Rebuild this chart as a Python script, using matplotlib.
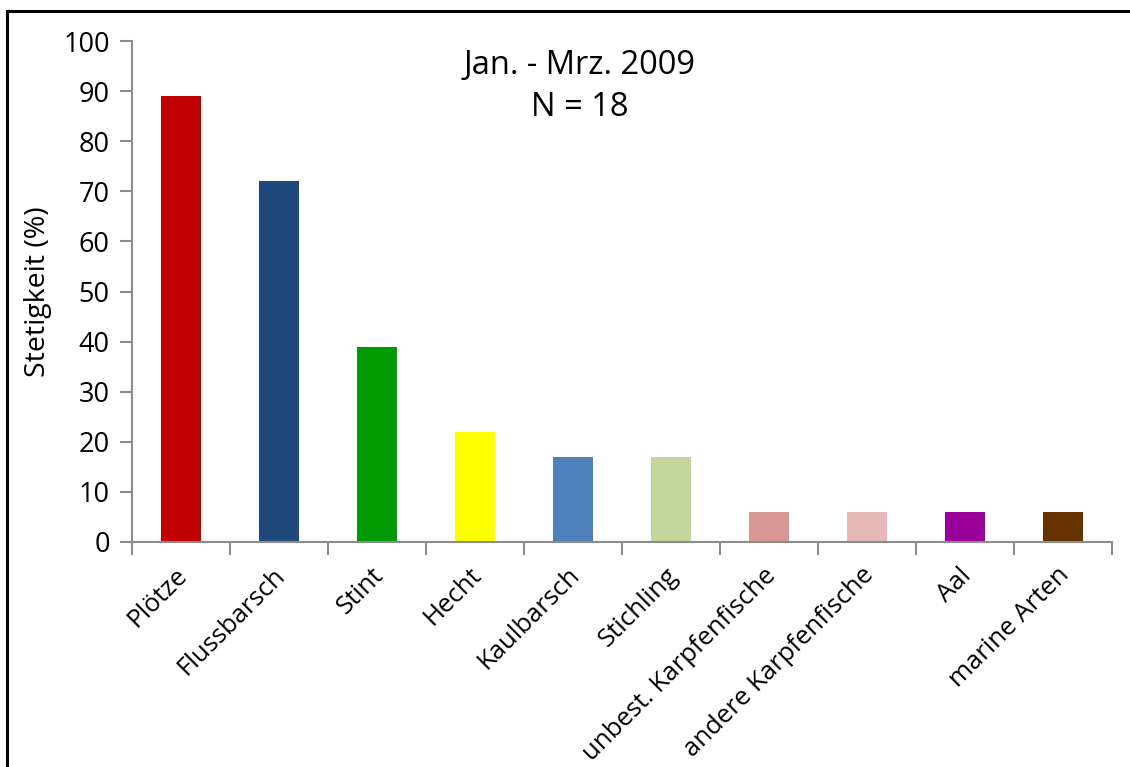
import matplotlib
matplotlib.use("Agg")
import matplotlib.pyplot as plt
from matplotlib.lines import Line2D
from matplotlib.transforms import ScaledTranslation

categories = ["Plötze", "Flussbarsch", "Stint", "Hecht", "Kaulbarsch", "Stichling",
              "unbest. Karpfenfische", "andere Karpfenfische", "Aal", "marine Arten"]
values = [89, 72, 39, 22, 17, 17, 6, 6, 6, 6]
colors = ["#C00000", "#1F497D", "#009A00", "#FFFF00", "#4F81BD", "#C3D69B",
          "#D99694", "#E6B9B8", "#990099", "#663300"]
yticks = [0, 10, 20, 30, 40, 50, 60, 70, 80, 90, 100]

plt.rcParams['font.family'] = ['Open Sans', 'DejaVu Sans']

fig = plt.figure(figsize=(11.3, 7.67), dpi=100)
ax = fig.add_axes([132/1130, 1-542/767, (1112-132)/1130, (542-41)/767])

x = list(range(len(categories)))
ax.bar(x, values, width=0.41, color=colors, zorder=2)

ax.set_xlim(-0.5, len(categories) - 0.5)
ax.set_ylim(0, 100)
ax.set_yticks(yticks)
ax.set_yticklabels([str(t) for t in yticks], fontsize=19.5)
ax.set_xticks(x)
ax.set_xticklabels(categories, rotation=45, ha='right', rotation_mode='anchor', fontsize=18.5)
ax.set_xticks([i + 0.5 for i in range(-1, len(categories))], minor=True)
ax.tick_params(axis='x', which='major', length=0, pad=15)
ax.tick_params(axis='x', which='minor', length=9, width=1.5, color='#8C8C8C', direction='out')
ax.tick_params(axis='y', length=9, width=1.5, color='#8C8C8C', direction='out', pad=7)

shift = ScaledTranslation(-6/100, 0, fig.dpi_scale_trans)
for lbl in ax.get_xticklabels():
    lbl.set_transform(lbl.get_transform() + shift)

for s in ['top', 'right']:
    ax.spines[s].set_visible(False)
for s in ['left', 'bottom']:
    ax.spines[s].set_color('#8C8C8C')
    ax.spines[s].set_linewidth(1.5)

ax.set_ylabel("Stetigkeit (%)", fontsize=20.5, labelpad=8)

ax.text(0.457, 0.952, "Jan. - Mrz. 2009", transform=ax.transAxes,
        ha='center', va='center', fontsize=23.5)
ax.text(0.457, 0.868, "N = 18", transform=ax.transAxes,
        ha='center', va='center', fontsize=23.5)

# outer frame (top and left edges visible)
fig.add_artist(Line2D([7/1130, 1.0], [1-11/767, 1-11/767], color='black', lw=2.2,
                      transform=fig.transFigure))
fig.add_artist(Line2D([7/1130, 7/1130], [0.0, 1-11/767], color='black', lw=2.2,
                      transform=fig.transFigure))

fig.savefig("out.png", dpi=100)
